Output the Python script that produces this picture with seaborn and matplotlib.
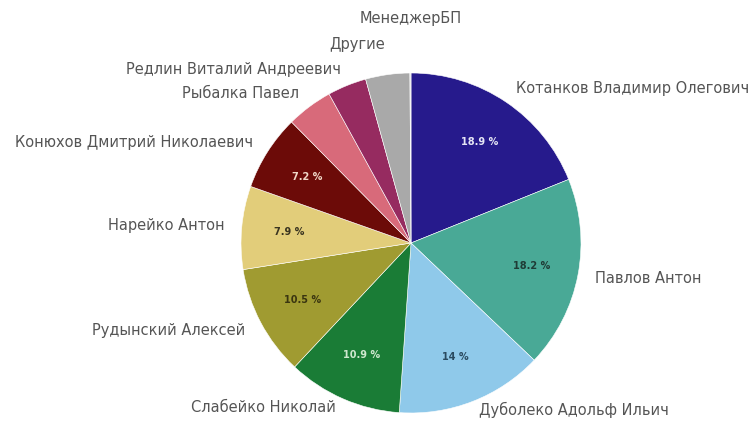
import matplotlib
matplotlib.use("Agg")
import matplotlib.pyplot as plt
import seaborn as sns

names = ["Котанков Владимир Олегович", "Павлов Антон", "Дуболеко Адольф Ильич",
         "Слабейко Николай", "Рудынский Алексей", "Нарейко Антон",
         "Конюхов Дмитрий Николаевич", "Рыбалка Павел", "Редлин Виталий Андреевич",
         "Другие", "МенеджерБП"]
values = [18.9, 18.2, 14.0, 10.9, 10.5, 7.9, 7.2, 4.4, 3.7, 4.2, 0.1]
pct_labels = ["18.9 %", "18.2 %", "14 %", "10.9 %", "10.5 %", "7.9 %", "7.2 %", "", "", "", ""]
colors = ["#261a8c", "#49a996", "#8fc9ea", "#1a7c36", "#a09b31", "#e2cd7a",
          "#6c0b08", "#d86a7a", "#962b60", "#a9a9a9", "#dddddd"]
pct_colors = ["#e6e6f5", "#1f3b35", "#2a4a60", "#cfe8cf", "#3a3510", "#3a3420",
              "#f0d8c8", "k", "k", "k", "k"]

sns.set_theme(style="white")
plt.rcParams["font.family"] = ["DejaVu Sans"]

fig = plt.figure(figsize=(7.53, 4.23), dpi=100)
W, H = 753, 423
cx, cy, r = 411, 243, 170
ax = fig.add_axes([(cx - r) / W, (H - cy - r) / H, 2 * r / W, 2 * r / H])

wedges, texts, autotexts = ax.pie(
    values, labels=names, colors=colors, startangle=90, counterclock=False,
    labeldistance=1.1, autopct=lambda p: "", pctdistance=0.72,
    wedgeprops=dict(edgecolor="white", linewidth=0.4),
    textprops=dict(fontsize=10.5, color="#555555"))

for t, s, c in zip(autotexts, pct_labels, pct_colors):
    t.set_text(s)
    t.set_color(c)
    t.set_fontsize(7)
    t.set_fontweight("bold")

# adjust crowded / edge labels
x, y = texts[2].get_position()
texts[2].set_position((x, -0.98))
x, y = texts[3].get_position()
texts[3].set_position((x, -0.965))
x, y = texts[9].get_position()
texts[9].set_position((x, 1.165))
texts[10].set_position((0, 1.32))
texts[10].set_ha("center")

ax.set_xlim(-1, 1)
ax.set_ylim(-1, 1)
ax.set_aspect("equal")
ax.axis("off")

fig.savefig("out.png", dpi=100)
